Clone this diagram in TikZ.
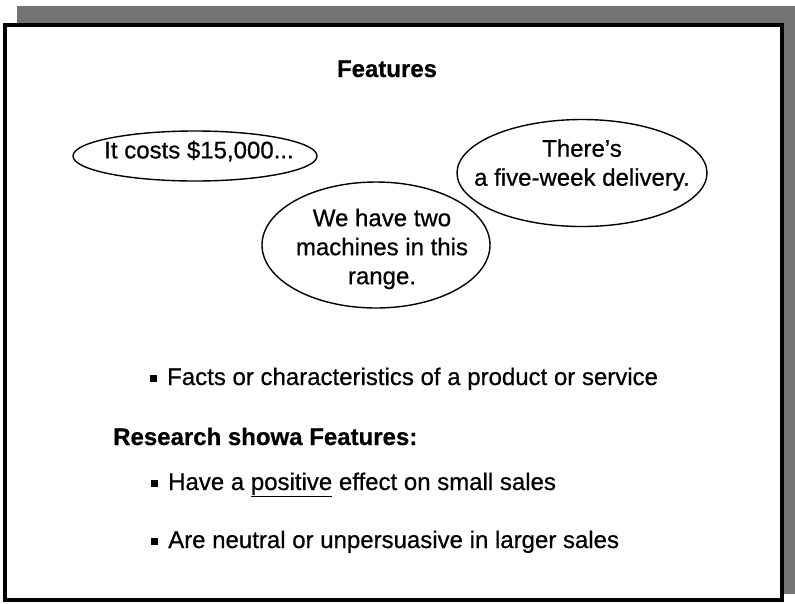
\documentclass[tikz,border=0pt]{standalone}
\usepackage{fontspec}
\setmainfont{Liberation Sans}[FakeBold=0.6]
\usetikzlibrary{shapes.geometric}
\begin{document}
\begin{tikzpicture}[x=1pt,y=-1pt,
  bubble/.style={draw=black, line width=1.4pt, ellipse, inner sep=0pt},
  btext/.style={font=\fontsize{24}{29}\selectfont, align=center, inner sep=0pt},
  body/.style={font=\fontsize{24}{29}\selectfont, anchor=base west, inner sep=0pt},
  head/.style={font=\fontsize{24}{29}\selectfont\bfseries, inner sep=0pt},
  bulletsq/.style={fill=black, minimum size=7pt, inner sep=0pt}]
\useasboundingbox (0,0) rectangle (795,603);
% drop shadow and frame
\fill[black!55] (17,6) rectangle (795,594);
\filldraw[fill=white, draw=black, line width=3.5pt] (5,25) rectangle (782,600);
% title
\node[head, anchor=base] (title) at (387,77) {Features};
% bubbles
\node[bubble, minimum width=244pt, minimum height=50pt] (e1) at (195,156) {};
\node[btext] (t1) at (199,151) {It costs \$15,000...};
\node[bubble, minimum width=228pt, minimum height=126pt] (e2) at (376,245) {};
\node[btext] (t2) at (382,249) {We have two\\machines in this\\range.};
\node[bubble, minimum width=250pt, minimum height=107pt] (e3) at (582,173) {};
\node[btext] (t3) at (582,165) {There's\\a five-week delivery.};
% bullet list
\node[bulletsq] (b1) at (153,378) {};
\node[body] (l1) at (167,385) {Facts or characteristics of a product or service};
\node[head, anchor=base west] (l2) at (113,445) {Research showa Features:};
\node[bulletsq] (b2) at (154,483) {};
\node[body] (l3) at (168,490) {Have a \underline{positive} effect on small sales};
\node[bulletsq] (b3) at (154,541) {};
\node[body] (l4) at (168,548) {Are neutral or unpersuasive in larger sales};
\end{tikzpicture}
\end{document}
